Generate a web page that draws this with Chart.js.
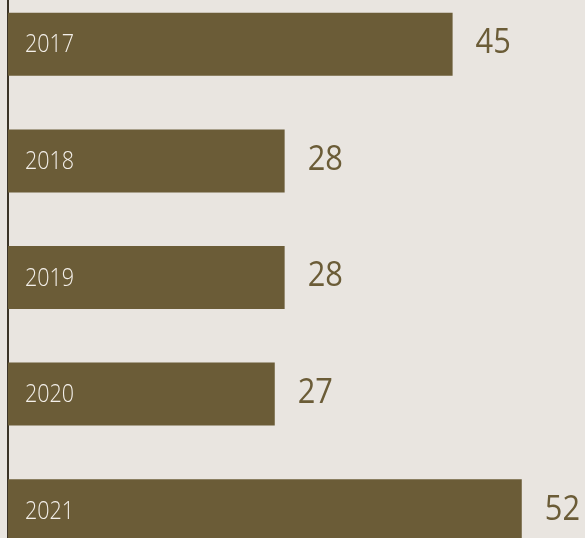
<!DOCTYPE html>
<html>
<head>
<meta charset="utf-8">
<script src="https://cdn.jsdelivr.net/npm/chart.js@4"></script>
<style>
  html, body { margin: 0; padding: 0; background: #e9e5e0; overflow: hidden; }
  #wrap { position: absolute; left: 0; top: -14px; width: 585px; height: 583px; }
</style>
</head>
<body>
<div id="wrap"><canvas id="grafico" width="585" height="583"></canvas></div>
<script>
// datos
const anios = ["2017", "2018", "2019", "2020", "2021"];
const valores = [45, 28, 28, 27, 52];

const colorBarra = "#6b5c37";
const estrecho = 0.86; // las letras del original son algo estrechas

// dibuja el año dentro de la barra y el valor a la derecha
const etiquetas = {
    id: "etiquetas",
    afterDatasetsDraw(chart) {
        const ctx = chart.ctx;
        const meta = chart.getDatasetMeta(0);
        meta.data.forEach((bar, i) => {
            ctx.save();
            ctx.textBaseline = "middle";
            ctx.textAlign = "left";

            ctx.fillStyle = "#f4f0ea";
            ctx.font = "300 25px 'Open Sans'";
            ctx.translate(bar.base + 17, bar.y + 1);
            ctx.scale(estrecho, 1);
            ctx.fillText(anios[i], 0, 0);
            ctx.restore();

            ctx.save();
            ctx.textBaseline = "middle";
            ctx.fillStyle = colorBarra;
            ctx.font = "400 35px 'Open Sans'";
            ctx.translate(bar.x + 23, bar.y - 1);
            ctx.scale(0.88, 1);
            ctx.fillText(String(valores[i]), 0, 0);
            ctx.restore();
        });
    }
};

new Chart(document.getElementById("grafico"), {
    type: "bar",
    data: {
        labels: anios,
        datasets: [{
            data: valores,
            backgroundColor: colorBarra,
            borderWidth: 0,
            barPercentage: 0.54,
            categoryPercentage: 1
        }]
    },
    options: {
        indexAxis: "y",
        responsive: false,
        animation: false,
        layout: { padding: { left: 8, right: 0, top: 0, bottom: 0 } },
        plugins: { legend: { display: false }, tooltip: { enabled: false } },
        scales: {
            x: { display: false, min: 0, max: 58.4 },
            y: {
                grid: { display: false, drawTicks: false },
                ticks: { display: false },
                border: { display: true, color: "#3b3326", width: 2 }
            }
        }
    },
    plugins: [etiquetas]
});
</script>
</body>
</html>
